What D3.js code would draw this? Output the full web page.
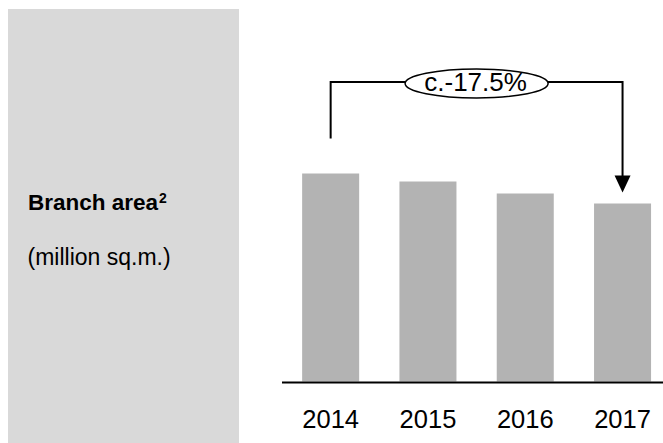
<!DOCTYPE html>
<html>
<head>
<meta charset="utf-8">
<script src="https://cdn.jsdelivr.net/npm/d3@7"></script>
<style>
  html, body { margin: 0; padding: 0; background: #ffffff; }
  svg { display: block; }
  text { font-family: "Liberation Sans", Arial, Helvetica, sans-serif; }
</style>
</head>
<body>
<svg id="chart" width="663" height="443"></svg>
<script>
// Branch area by year (million sq.m.)
const years = ["2014", "2015", "2016", "2017"];
const branchArea = [2.08, 2.00, 1.88, 1.78];
const changeLabel = "c.-17.5%";
const titleLabel = "Branch area";
const titleNote = "2";
const unitLabel = "(million sq.m.)";

const svg = d3.select("#chart");
const W = 663, H = 443;

// Grey side panel holding the metric name
svg.append("rect")
  .attr("x", 8).attr("y", 9)
  .attr("width", 231).attr("height", H - 9)
  .attr("fill", "#d9d9d9");

const title = svg.append("text")
  .attr("x", 28).attr("y", 209.5)
  .attr("font-size", 22.5).attr("font-weight", "bold")
  .attr("fill", "#000");
title.append("tspan").text(titleLabel);
title.append("tspan")
  .attr("font-size", 14)
  .attr("dx", 1)
  .attr("dy", -7)
  .text(titleNote);

svg.append("text")
  .attr("x", 27.5).attr("y", 265)
  .attr("font-size", 23).attr("fill", "#000")
  .text(unitLabel);

// Scales
const x = d3.scaleBand()
  .domain(years)
  .range([282, 671.2])
  .paddingInner(0.414)
  .paddingOuter(0.207);

const y = d3.scaleLinear()
  .domain([0, 2.6])
  .range([381.5, 121.5]);

const data = years.map((yr, i) => ({ year: yr, value: branchArea[i] }));

// Bars
svg.append("g").selectAll("rect")
  .data(data)
  .join("rect")
  .attr("x", d => x(d.year))
  .attr("y", d => y(d.value))
  .attr("width", x.bandwidth())
  .attr("height", d => y(0) - y(d.value))
  .attr("fill", "#b3b3b3");

// Baseline axis with year labels
const axis = svg.append("g")
  .attr("transform", `translate(0,${y(0) + 1})`)
  .call(d3.axisBottom(x).tickSize(0).tickPadding(0));
axis.select(".domain").remove();
axis.append("line")
  .attr("x1", 282).attr("x2", W)
  .attr("y1", 0).attr("y2", 0)
  .attr("stroke", "#000").attr("stroke-width", 2);
axis.selectAll(".tick text")
  .attr("y", 45.8)
  .attr("dy", null)
  .attr("font-size", 25.5)
  .attr("font-family", "\"Liberation Sans\", Arial, sans-serif")
  .attr("fill", "#000");

// Change bracket from first to last bar
const first = data[0], last = data[data.length - 1];
const cx0 = x(first.year) + x.bandwidth() / 2;
const cx1 = x(last.year) + x.bandwidth() / 2;
const bracketY = 82;
const startY = y(first.value) - 35;
const tipY = y(last.value) - 11;

svg.append("path")
  .attr("d", `M${cx0},${startY} V${bracketY} H${cx1} V${tipY - 16}`)
  .attr("fill", "none")
  .attr("stroke", "#000")
  .attr("stroke-width", 2);

svg.append("path")
  .attr("d", `M${cx1 - 8},${tipY - 17} L${cx1 + 8},${tipY - 17} L${cx1},${tipY} Z`)
  .attr("fill", "#000");

const midX = (cx0 + cx1) / 2;
svg.append("ellipse")
  .attr("cx", midX).attr("cy", 83.5)
  .attr("rx", 71.5).attr("ry", 14.5)
  .attr("fill", "#fff")
  .attr("stroke", "#000")
  .attr("stroke-width", 1.5);

svg.append("text")
  .attr("x", midX - 1).attr("y", 91.3)
  .attr("text-anchor", "middle")
  .attr("font-size", 26)
  .attr("fill", "#000")
  .text(changeLabel);
</script>
</body>
</html>
